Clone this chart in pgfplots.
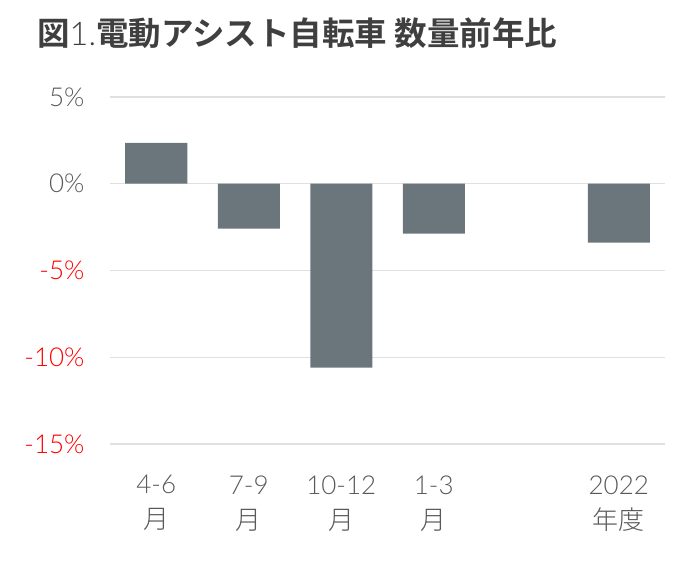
\documentclass[border=0pt]{standalone}
\usepackage{pgfplots}
\pgfplotsset{compat=1.18}
\usepackage{fontspec}
\setmainfont{Lato Light}
\newfontfamily\latob{Lato}
\newfontfamily\cjk{Noto Sans CJK JP Light}
\newfontfamily\cjkb{Noto Sans CJK JP Bold}
\definecolor{tickgray}{HTML}{595959}
\definecolor{tickred}{HTML}{FF0000}
\definecolor{barc}{HTML}{6B767C}
\definecolor{gridc}{HTML}{E0E0E0}
\definecolor{titlec}{HTML}{3F3F3F}
\begin{document}
\begin{tikzpicture}
\useasboundingbox (-110pt,-120pt) rectangle (590pt,444pt);
\node[anchor=west, text=titlec, inner sep=0pt] at (-73pt,411pt)
  {\fontsize{32.5pt}{40pt}\selectfont{\cjkb 図}1.{\cjkb 電動アシスト自転車 数量前年比}};
\begin{axis}[
  at={(0,0)}, anchor=south west,
  scale only axis, width=555pt, height=347pt,
  xmin=-0.5, xmax=5.5, ymin=-15, ymax=5,
  xtick={0,1,2,3,5},
  xticklabels={{4-6\\{\cjk 月}},{7-9\\{\cjk 月}},{10-12\\{\cjk 月}},{1-3\\{\cjk 月}},{2022\\{\cjk 年度}}},
  ytick={-15,-10,-5,0,5},
  yticklabels={{\textcolor{tickred}{-15\%}},{\textcolor{tickred}{-10\%}},{\textcolor{tickred}{-5\%}},{0\%},{5\%}},
  axis line style={draw=none},
  tick style={draw=none},
  ymajorgrids, grid style={gridc, line width=1.2pt},
  xticklabel style={align=center, text=tickgray, font=\fontsize{26pt}{35pt}\selectfont, anchor=north, yshift=-28pt},
  yticklabel style={text=tickgray, font=\fontsize{26pt}{30pt}\selectfont, anchor=east, xshift=-22pt},
  clip=false,
]
\addplot[ybar, fill=barc, draw=none, bar width=62pt] coordinates {(0,2.36) (1,-2.59) (2,-10.6) (3,-2.88) (5,-3.4)};
\end{axis}
\end{tikzpicture}
\end{document}
